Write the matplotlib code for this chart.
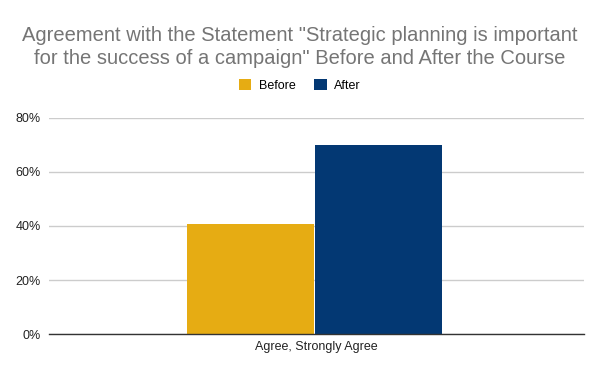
import matplotlib
matplotlib.use("Agg")
import matplotlib.pyplot as plt
from matplotlib.patches import Patch
from matplotlib.ticker import FuncFormatter

categories = ["Agree, Strongly Agree"]
series_names = ["Before", "After"]
before = [40.7]
after = [70.0]
colors = ["#E6AC13", "#033873"]
yticks = [0, 20, 40, 60, 80]

plt.rcParams['font.family'] = ['Liberation Sans', 'DejaVu Sans']

fig = plt.figure(figsize=(6, 3.71), dpi=100)
ax = fig.add_axes([0.082, 0.0997, 0.891, 0.5823])

w = 0.236
x = list(range(len(categories)))
ax.bar([i - 0.1235 for i in x], before, width=w, color=colors[0], align='center', zorder=3)
ax.bar([i + 0.1160 for i in x], after, width=w, color=colors[1], align='center', zorder=3)

ax.set_xlim(-0.5, 0.5)
ax.set_ylim(0, 80)
ax.set_yticks(yticks)
ax.yaxis.set_major_formatter(FuncFormatter(lambda v, p: f"{int(v)}%"))
ax.set_xticks(x)
ax.set_xticklabels(categories)
ax.tick_params(axis='both', length=0, labelsize=9, colors='#222222', pad=5)
ax.tick_params(axis='y', pad=6)
ax.grid(axis='y', color='#cccccc', linewidth=1, zorder=0)
for s in ['top', 'right', 'left']:
    ax.spines[s].set_visible(False)
ax.spines['bottom'].set_color('#333333')
ax.spines['bottom'].set_linewidth(1)
ax.spines['bottom'].set_zorder(4)

fig.text(0.5, 0.873, 'Agreement with the Statement "Strategic planning is important\nfor the success of a campaign" Before and After the Course',
         ha='center', va='center', fontsize=14.5, color='#757575', linespacing=1.3)

handles = [Patch(facecolor=c, edgecolor='none') for c in colors]
fig.legend(handles, series_names, loc='center', bbox_to_anchor=(0.5, 0.77), ncol=2,
           frameon=False, fontsize=9, handlelength=1.0, handleheight=1.0,
           handletextpad=0.6, columnspacing=1.5)

fig.savefig("out.png", dpi=100, facecolor='white')
